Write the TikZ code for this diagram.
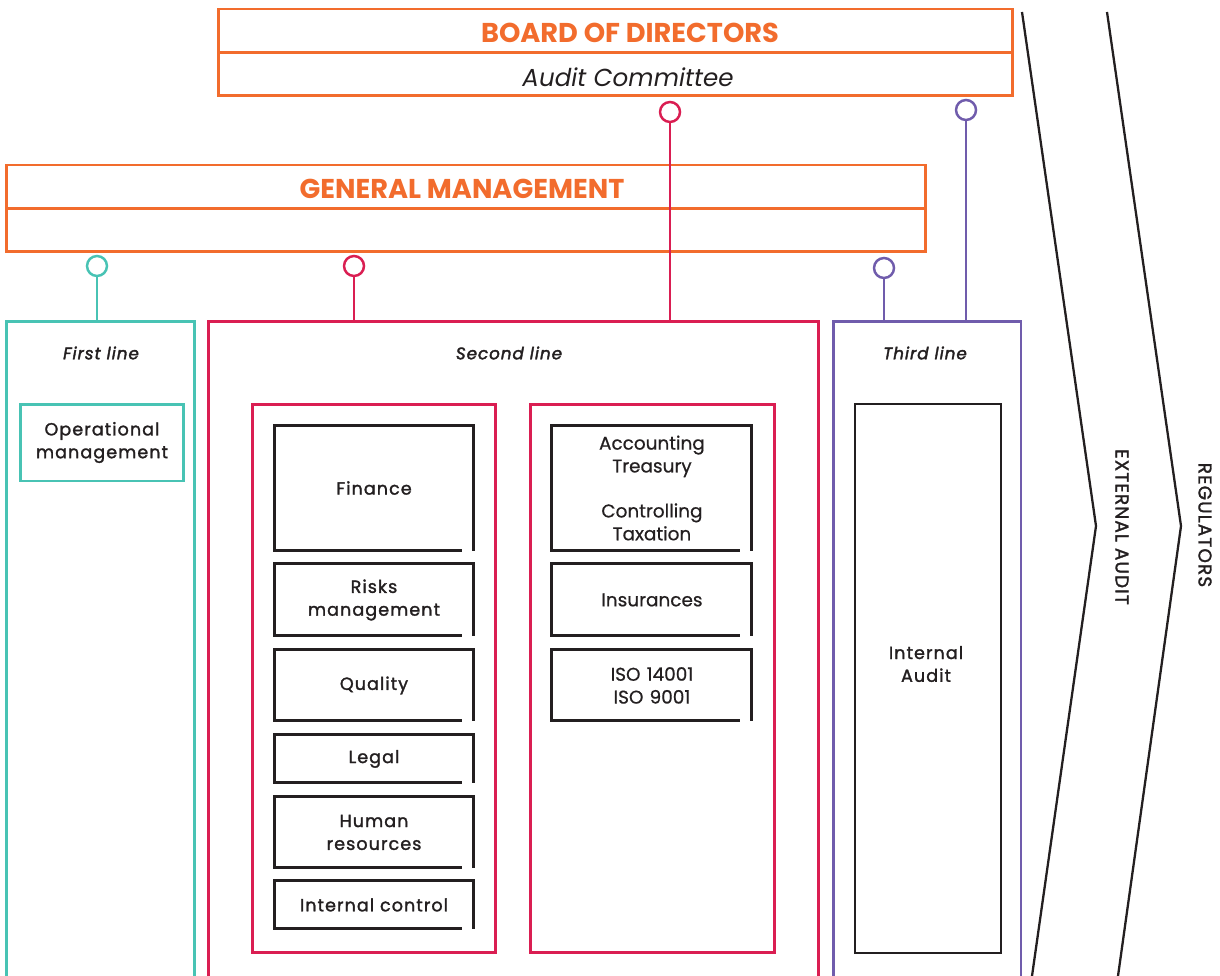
\documentclass[tikz,border=0pt]{standalone}
\usepackage{fontspec}
\setmainfont{Poppins}
\newfontfamily\lblfont[LetterSpace=6, FakeBold=1.6]{Poppins}
\newfontfamily\lineitfont[LetterSpace=6, FakeBold=2.2]{Poppins Italic}
\newfontfamily\plainfont[FakeBold=0.6]{Poppins}
\usepackage{xcolor}
\definecolor{boardorange}{RGB}{242,108,45}
\definecolor{linecrimson}{RGB}{218,30,82}
\definecolor{lineteal}{RGB}{72,195,180}
\definecolor{linepurple}{RGB}{112,92,172}
\definecolor{ink}{RGB}{35,31,32}
\usetikzlibrary{positioning, calc}

% box open at its lower right corner
\newcommand{\openbox}[1]{%
  \draw[deptline] ([xshift=-0.24cm]#1.south east) -- (#1.south west) -- (#1.north west) -- (#1.north east) -- (#1.south east);}

\begin{document}
\begin{tikzpicture}[x=0.02cm, y=-0.02cm]
  \tikzstyle{frame} = [rectangle, draw, line width=1.7pt, outer sep=0pt, inner sep=0pt]
  \tikzstyle{dept} = [rectangle, outer sep=0pt, inner sep=0pt, text width=3.8cm, align=center, font=\lblfont\fontsize{10}{13}\selectfont, text=ink]
  \tikzstyle{plain} = [dept, font=\plainfont\fontsize{10.5}{13}\selectfont]
  \tikzstyle{deptline} = [ink, line width=1.7pt]
  \tikzstyle{ring} = [circle, draw, fill=white, line width=1.4pt, minimum size=0.4cm, inner sep=0pt]
  \tikzstyle{link} = [line width=1.4pt]
  \tikzstyle{linetitle} = [font=\lineitfont\fontsize{9.5}{11}\selectfont, text=ink]
  \tikzstyle{headline} = [font=\bfseries\fontsize{15.5}{18}\selectfont, text=boardorange]
  \tikzstyle{chevron} = [ink, line width=1.3pt]

  \clip (0,0) rectangle (1220,976);

  % governance bodies
  \node [frame, draw=boardorange, minimum width=15.9cm, minimum height=1.74cm] (board) at (615.5,52.5) {};
  \draw [boardorange, line width=1.7pt] (board.west) -- (board.east);
  \node [headline] (boardtxt) at (630,33) {BOARD OF DIRECTORS};
  \node [font=\itshape\fontsize{14}{16}\selectfont, text=ink] (audittxt) at (628,77) {Audit Committee};

  \node [frame, draw=boardorange, minimum width=18.4cm, minimum height=1.74cm] (gm) at (466,208.5) {};
  \draw [boardorange, line width=1.7pt] (gm.west) -- (gm.east);
  \node [headline] (gmtxt) at (462,189) {GENERAL MANAGEMENT};

  % the three lines
  \node [frame, draw=lineteal, minimum width=3.78cm, minimum height=13.48cm] (first) at (100.5,658) {};
  \node [frame, draw=linecrimson, minimum width=12.22cm, minimum height=13.48cm] (second) at (513.5,658) {};
  \node [frame, draw=linepurple, minimum width=3.76cm, minimum height=13.48cm] (third) at (927,658) {};
  \node [linetitle] (firsttxt) at (101,353) {First line};
  \node [linetitle] (secondtxt) at (509,353) {Second line};
  \node [linetitle] (thirdtxt) at (925,353) {Third line};

  % connectors
  \node [ring, draw=lineteal] (ring1) at (97,266) {};
  \node [ring, draw=linecrimson] (ring2) at (354,266) {};
  \node [ring, draw=linecrimson] (ring3) at (670,112) {};
  \node [ring, draw=linepurple] (ring4) at (884,268) {};
  \node [ring, draw=linepurple] (ring5) at (966,110) {};
  \draw [link, lineteal] (ring1.south) -- (ring1.south |- first.north);
  \draw [link, linecrimson] (ring2.south) -- (ring2.south |- second.north);
  \draw [link, linecrimson] (ring3.south) -- (ring3.south |- second.north);
  \draw [link, linepurple] (ring4.south) -- (ring4.south |- third.north);
  \draw [link, linepurple] (ring5.south) -- (ring5.south |- third.north);

  % first line
  \node [frame, draw=lineteal, minimum width=3.28cm, minimum height=1.54cm, align=center, font=\lblfont\fontsize{10}{13}\selectfont, text=ink] (opmgmt) at (102,442.5) {Operational\\management};

  % second line
  \node [frame, draw=linecrimson, minimum width=4.88cm, minimum height=10.98cm] (leftcol) at (374,678.5) {};
  \node [frame, draw=linecrimson, minimum width=4.9cm, minimum height=10.98cm] (rightcol) at (652.5,678.5) {};

  \node [dept, minimum width=4cm, minimum height=2.52cm] (finance) at (374,488) {Finance};
  \node [dept, minimum width=4cm, minimum height=1.44cm, below=0.26cm of finance] (risks) {Risks\\management};
  \node [dept, minimum width=4cm, minimum height=1.42cm, below=0.28cm of risks] (quality) {Quality};
  \node [dept, minimum width=4cm, minimum height=0.96cm, below=0.28cm of quality] (legal) {Legal};
  \node [dept, minimum width=4cm, minimum height=1.42cm, below=0.28cm of legal] (human) {Human\\resources};
  \node [dept, minimum width=4cm, minimum height=0.96cm, below=0.26cm of human] (intctrl) {Internal control};

  \node [plain, minimum width=4cm, minimum height=2.52cm, right=1.56cm of finance] (acct) {Accounting\\Treasury\\[1.2em]Controlling\\Taxation};
  \node [plain, minimum width=4cm, minimum height=1.44cm, right=1.56cm of risks] (insur) {Insurances};
  \node [plain, minimum width=4cm, minimum height=1.42cm, right=1.56cm of quality] (iso) {ISO 14001\\ISO 9001};

  \openbox{finance}
  \openbox{risks}
  \openbox{quality}
  \openbox{legal}
  \openbox{human}
  \openbox{intctrl}
  \openbox{acct}
  \openbox{insur}
  \openbox{iso}

  % third line
  \node [frame, draw=ink, line width=1.4pt, minimum width=2.92cm, minimum height=10.98cm] (intaudit) at (928,678.5) {};
  \node [dept, text width=2.6cm] (intaudittxt) at (926,664) {Internal\\Audit};

  % outside parties
  \coordinate (ext1) at (1022,12);
  \coordinate (ext2) at (1096,526);
  \coordinate (ext3) at (1032,976);
  \coordinate (reg1) at (1107,12);
  \coordinate (reg2) at (1181,526);
  \coordinate (reg3) at (1118,976);
  \draw [chevron] (ext1) -- (ext2) -- (ext3);
  \draw [chevron] (reg1) -- (reg2) -- (reg3);
  \node [rotate=-90, font=\lblfont\fontsize{10.5}{12}\selectfont, text=ink] (exttxt) at (1122,527) {EXTERNAL AUDIT};
  \node [rotate=-90, font=\lblfont\fontsize{10.5}{12}\selectfont, text=ink] (regtxt) at (1205,525) {REGULATORS};
\end{tikzpicture}
\end{document}
